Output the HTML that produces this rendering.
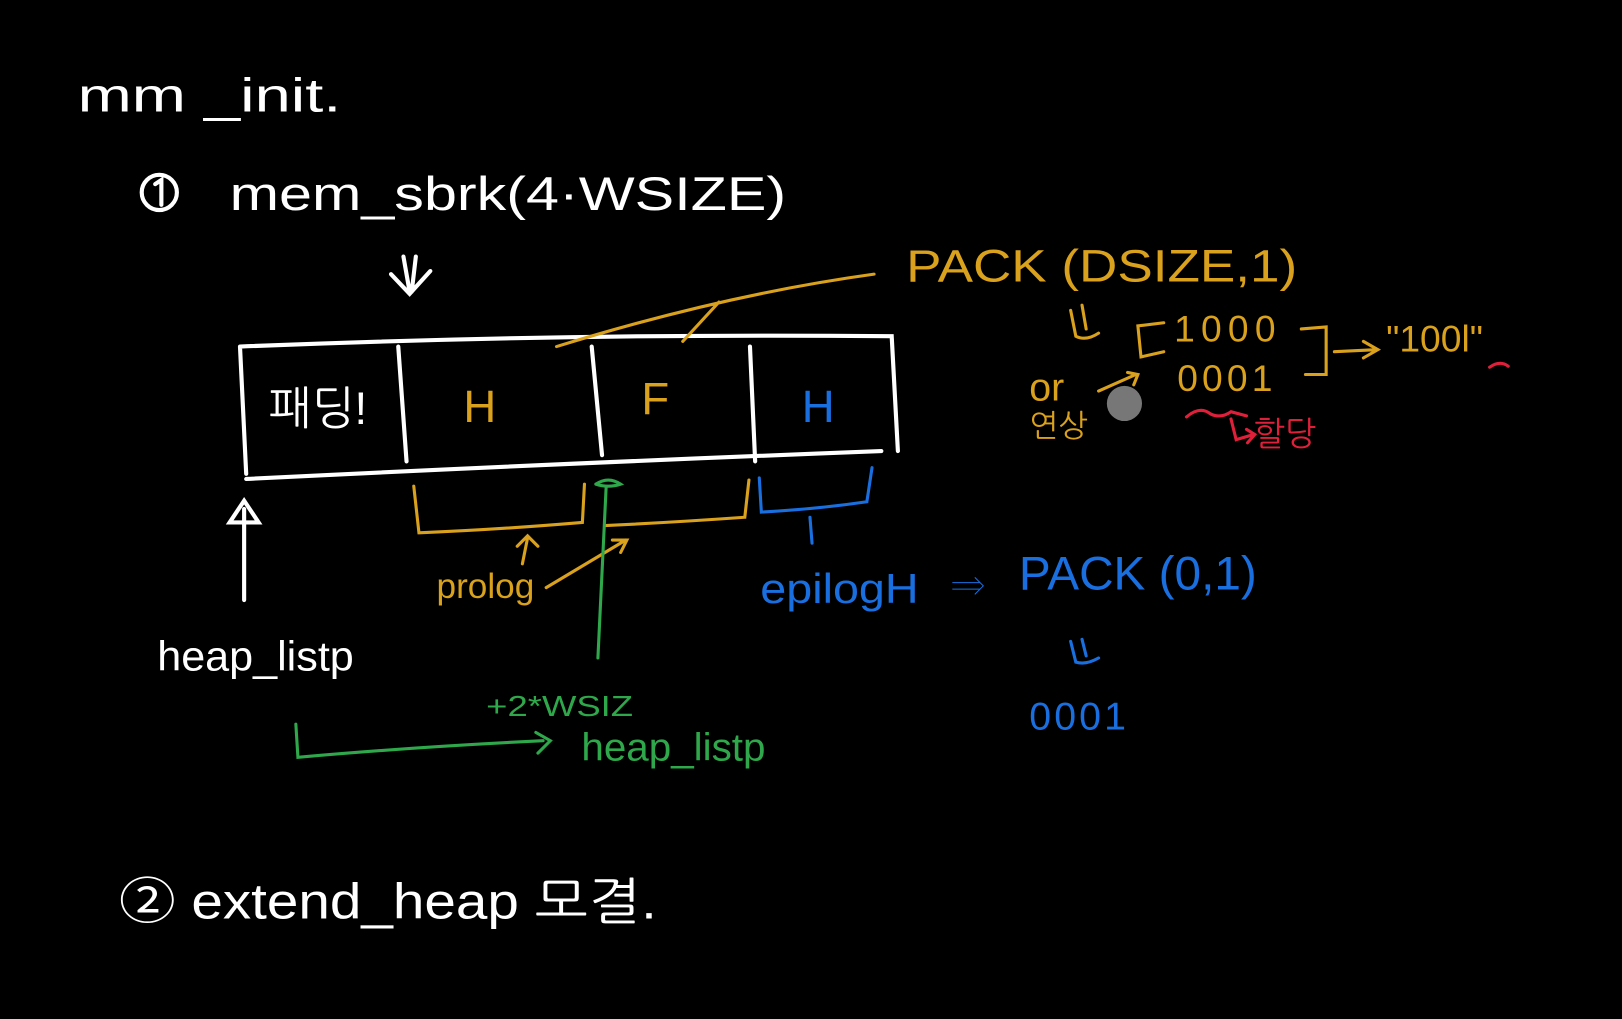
<!DOCTYPE html>
<html><head><meta charset="utf-8"><style>
html,body{margin:0;padding:0;background:#000;width:1622px;height:1019px;overflow:hidden}
svg{display:block}
text{font-family:"Liberation Sans","NanumGothic","Noto Sans CJK KR",sans-serif}
</style></head><body>
<svg width="1622" height="1019" viewBox="0 0 1568 985" preserveAspectRatio="none" xmlns="http://www.w3.org/2000/svg">
<rect width="1568" height="985" fill="#000"/>
<g fill="#fff">
<text x="75" y="108" font-size="46" textLength="255" lengthAdjust="spacingAndGlyphs">mm _init.</text>
<text x="222" y="203" font-size="46" textLength="538" lengthAdjust="spacingAndGlyphs">mem_sbrk(4·WSIZE)</text>
<text x="115" y="888" font-size="48" textLength="520" lengthAdjust="spacingAndGlyphs">② extend_heap 모결.</text>
<text x="152" y="648" font-size="40" textLength="190" lengthAdjust="spacingAndGlyphs">heap_listp</text>
<text x="260" y="410" font-size="44">패딩!</text>
</g>
<g stroke="#fff" stroke-width="4" fill="none" stroke-linecap="round">
<circle cx="154" cy="186" r="17"/>
<path d="M150 178 L156 174 L156 198"/>
<path d="M390 248 L396 282 M402 248 L398 282 M378 265 L396 284 L416 262"/>
<path d="M232 335 L238 458 M232 335 Q550 322 862 325 L868 436 M238 463 Q540 448 852 436"/>
<path d="M385 335 L393 446 M572 335 L582 440 M725 335 L730 446"/>
<path d="M236 580 L236 492 M222 505 L236 484 L250 505 Z"/>
</g>
<g fill="none" stroke="#d9a11c" stroke-width="3" stroke-linecap="round">
<path d="M538 335 Q700 285 845 265 M660 330 L695 292"/>
<path d="M400 470 L405 515 Q480 512 563 505 L565 468"/>
<path d="M585 508 Q650 505 720 500 L724 464"/>
<path d="M505 545 L510 520 M500 528 L510 518 L520 528"/>
<path d="M528 568 L605 522 M592 522 L606 522 L600 534"/>
<path d="M1035 300 L1040 325 Q1050 330 1062 322 M1046 295 L1050 318"/>
<path d="M1125 312 L1100 315 L1103 345 L1125 340 M1258 318 L1282 316 L1282 362 L1262 362 M1290 340 L1330 338 M1318 330 L1332 338 L1318 346"/>
<path d="M1062 378 L1098 362 M1090 360 L1100 362 L1096 372"/>
</g>
<g fill="#d9a11c">
<text x="876" y="272" font-size="44" textLength="378" lengthAdjust="spacingAndGlyphs">PACK (DSIZE,1)</text>
<text x="1135" y="330" font-size="36" letter-spacing="6">1000</text>
<text x="1138" y="378" font-size="36" letter-spacing="4">0001</text>
<text x="1340" y="340" font-size="36">"100l"</text>
<text x="995" y="387" font-size="38">or</text>
<text x="995" y="422" font-size="30">연상</text>
<text x="448" y="408" font-size="44">H</text>
<text x="620" y="400" font-size="44">F</text>
<text x="422" y="578" font-size="34">prolog</text>
</g>
<circle cx="1087" cy="390" r="17" fill="#777"/>
<g fill="none" stroke="#e0203a" stroke-width="3" stroke-linecap="round">
<path d="M1147 403 Q1160 392 1170 400 Q1180 405 1190 398 L1205 402"/>
<path d="M1190 405 L1195 425 L1212 420 M1205 415 L1213 420 L1206 428"/>
<path d="M1440 355 Q1450 348 1458 354"/>
</g>
<text x="1212" y="430" font-size="32" fill="#e0203a">할당</text>
<g fill="#1a6fe0">
<text x="775" y="408" font-size="44">H</text>
<text x="735" y="583" font-size="40" textLength="153" lengthAdjust="spacingAndGlyphs">epilogH</text>
<text x="920" y="578" font-size="34">⇒</text>
<text x="985" y="570" font-size="46" textLength="230" lengthAdjust="spacingAndGlyphs">PACK (0,1)</text>
<text x="995" y="705" font-size="38" letter-spacing="3">0001</text>
</g>
<g fill="none" stroke="#1a6fe0" stroke-width="3" stroke-linecap="round">
<path d="M734 462 L736 495 Q790 492 838 485 L843 452 M783 500 L785 525"/>
<path d="M1035 620 L1040 640 Q1050 643 1062 636 M1046 618 L1050 634"/>
</g>
<g fill="none" stroke="#2ea84a" stroke-width="3" stroke-linecap="round">
<path d="M578 636 L586 470 M576 468 Q588 460 600 468 Q588 472 576 468"/>
<path d="M286 700 L288 732 Q400 722 525 716 M518 708 L532 716 L520 728"/>
</g>
<g fill="#2ea84a">
<text x="470" y="692" font-size="28" textLength="142" lengthAdjust="spacingAndGlyphs">+2*WSIZ</text>
<text x="562" y="735" font-size="38" textLength="178" lengthAdjust="spacingAndGlyphs">heap_listp</text>
</g>
</svg>
</body></html>
